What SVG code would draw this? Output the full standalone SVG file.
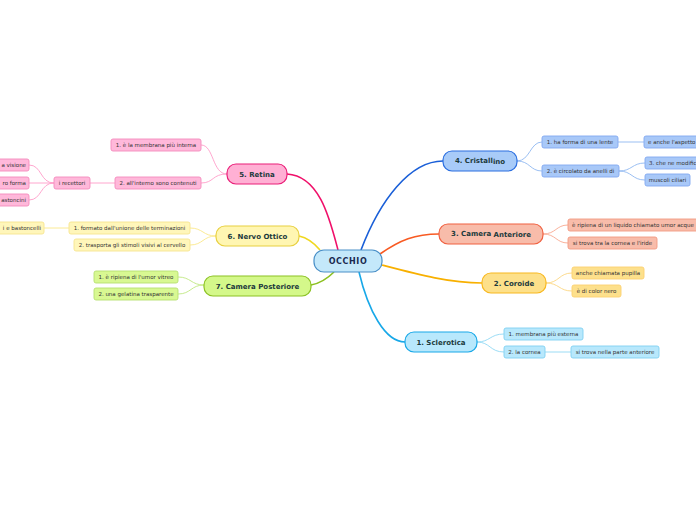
<svg xmlns="http://www.w3.org/2000/svg" width="696" height="520" viewBox="0 0 696 520">
<style>
.mn{stroke-width:1.2}
.lf{stroke-width:0.9}
.mt{font-family:"DejaVu Sans",Verdana,sans-serif;font-size:7px;font-weight:bold;fill:#1c3a3c;text-anchor:middle}
.lt{font-family:"DejaVu Sans",Verdana,sans-serif;font-size:5.5px;fill:#333;text-anchor:middle}
.le{text-anchor:end}
.ls{text-anchor:start}
.c{fill:none;stroke-width:1.6}
.cl{fill:none;stroke-width:0.9}
.pink{fill:#ffb0d4;stroke:#ea1e78}
.pinkL{fill:#ffb8da;stroke:#f48abc}
.yel{fill:#fff6b2;stroke:#e8d040}
.yelL{fill:#fff6ba;stroke:#f6e48e}
.grn{fill:#d4f88a;stroke:#8cc224}
.grnL{fill:#d8f892;stroke:#b6e070}
.blu{fill:#a8cbf8;stroke:#2a6ee0}
.bluL{fill:#a8c8f8;stroke:#82a8f0}
.sal{fill:#f8bcaa;stroke:#f06040}
.salL{fill:#f8bcaa;stroke:#f29a82}
.ora{fill:#fde08a;stroke:#f8b820}
.oraL{fill:#fde08c;stroke:#fcd070}
.sky{fill:#b8e8fc;stroke:#18a8e8}
.skyL{fill:#b8e8fc;stroke:#80d0f2}
</style>
<g id="connectors">
<path class="c" stroke="#f0106a" d="M287,174 C320,176 330,220 338,250"/>
<path class="c" stroke="#1a5fd8" d="M361,250 C380,200 410,161 443,161"/>
<path class="c" stroke="#f85a22" d="M380,254 C400,240 415,234 439,234"/>
<path class="c" stroke="#f8b000" d="M382,265 C420,275 450,283 482,283"/>
<path class="c" stroke="#18a8e8" d="M359,272 C368,310 385,342 405,342"/>
<path class="c" stroke="#f0d820" d="M299,236 C308,238 315,244 320,250"/>
<path class="c" stroke="#8cc020" d="M311,285 C322,283 328,278 334,272"/>
<g stroke="#ff9cc8">
<path class="cl" d="M201,145 C214,145 212,174 227,174"/>
<path class="cl" d="M201,183 C214,183 212,174 227,174"/>
<path class="cl" d="M90,183 L115,183"/>
<path class="cl" d="M29,165 C42,165 40,183 54,183"/>
<path class="cl" d="M29,183 L54,183"/>
<path class="cl" d="M29,200 C42,200 40,183 54,183"/>
</g>
<g stroke="#fbe888">
<path class="cl" d="M190,228 C203,228 203,236 216,236"/>
<path class="cl" d="M190,245 C203,245 203,236 216,236"/>
<path class="cl" d="M44,228 L69,228"/>
</g>
<g stroke="#c0e880">
<path class="cl" d="M178,277 C191,277 191,285 204,285"/>
<path class="cl" d="M178,294 C191,294 191,285 204,285"/>
</g>
<g stroke="#90b8f0">
<path class="cl" d="M517,161 C530,161 530,142 542,142"/>
<path class="cl" d="M517,161 C530,161 530,171 542,171"/>
<path class="cl" d="M618,142 L644,142"/>
<path class="cl" d="M619,171 C632,171 632,163 645,163"/>
<path class="cl" d="M619,171 C632,171 632,180 645,180"/>
</g>
<g stroke="#f8a890">
<path class="cl" d="M543,234 C556,234 556,225 568,225"/>
<path class="cl" d="M543,234 C556,234 556,243 568,243"/>
</g>
<g stroke="#fcd680">
<path class="cl" d="M546,283 C559,283 559,273 572,273"/>
<path class="cl" d="M546,283 C559,283 559,291 572,291"/>
</g>
<g stroke="#90d8f4">
<path class="cl" d="M477,342 C490,342 490,334 504,334"/>
<path class="cl" d="M477,342 C490,342 490,352 504,352"/>
<path class="cl" d="M545,352 L571,352"/>
</g>
</g>
<g id="occhio">
<rect x="314" y="250" width="68" height="22" rx="10" fill="#c4e8fa" stroke="#4a90c8" stroke-width="1.2"/>
<text x="348" y="264.3" font-family="DejaVu Sans,Verdana,sans-serif" font-size="8px" font-weight="bold" fill="#1a2a50" text-anchor="middle" letter-spacing="0.6">OCCHIO</text>
</g>
<g id="retina">
<rect class="mn pink" x="227" y="164" width="60" height="20" rx="9"/>
<text class="mt" x="257" y="176.5">5. Retina</text>
</g>
<g id="retina-1"><rect class="lf pinkL" x="111" y="139" width="90" height="12" rx="2"/><text class="lt" x="156" y="147">1. è la membrana più interna</text></g>
<g id="retina-2"><rect class="lf pinkL" x="115" y="177" width="86" height="12" rx="2"/><text class="lt" x="158" y="185">2. all'interno sono contenuti</text></g>
<g id="recettori"><rect class="lf pinkL" x="54" y="177" width="36" height="12" rx="2"/><text class="lt" x="72" y="185">i recettori</text></g>
<g id="recettori-1"><rect class="lf pinkL" x="-30" y="159" width="59" height="12" rx="2"/><text class="lt le" x="26" y="167">a visione</text></g>
<g id="recettori-2"><rect class="lf pinkL" x="-30" y="177" width="59" height="12" rx="2"/><text class="lt le" x="26" y="185">ro forma</text></g>
<g id="recettori-3"><rect class="lf pinkL" x="-30" y="194" width="59" height="12" rx="2"/><text class="lt le" x="26" y="202">astoncini</text></g>
<g id="nervo">
<rect class="mn yel" x="216" y="226" width="83" height="20" rx="9"/>
<text class="mt" x="257.5" y="238.5">6. Nervo Ottico</text>
</g>
<g id="nervo-1"><rect class="lf yelL" x="69" y="222" width="121" height="12" rx="2"/><text class="lt" x="129.5" y="230">1. formato dall'unione delle terminazioni</text></g>
<g id="nervo-2"><rect class="lf yelL" x="74" y="239" width="116" height="12" rx="2"/><text class="lt" x="132" y="247">2. trasporta gli stimoli visivi al cervello</text></g>
<g id="nervo-3"><rect class="lf yelL" x="-20" y="222" width="64" height="12" rx="2"/><text class="lt le" x="41" y="230">i e bastoncelli</text></g>
<g id="posteriore">
<rect class="mn grn" x="204" y="276" width="107" height="20" rx="9"/>
<text class="mt" x="257.5" y="288.5">7. Camera Posteriore</text>
</g>
<g id="posteriore-1"><rect class="lf grnL" x="94" y="271" width="84" height="12" rx="2"/><text class="lt" x="136" y="279">1. è ripiena di l'umor vitreo</text></g>
<g id="posteriore-2"><rect class="lf grnL" x="94" y="288" width="84" height="12" rx="2"/><text class="lt" x="136" y="296">2. una gelatina trasparente</text></g>
<g id="cristallino">
<rect class="mn blu" x="443" y="151" width="74" height="20" rx="9"/>
<text class="mt" x="480" y="163.4">4. Cristall<tspan dy="1">ino</tspan></text>
</g>
<g id="cristallino-1"><rect class="lf bluL" x="542" y="136" width="76" height="12" rx="2"/><text class="lt" x="580" y="144">1. ha forma di una lente</text></g>
<g id="cristallino-2"><rect class="lf bluL" x="542" y="165" width="77" height="12" rx="2"/><text class="lt" x="580.5" y="173">2. è circolato da anelli di</text></g>
<g id="cristallino-3"><rect class="lf bluL" x="644" y="136" width="60" height="12" rx="2"/><text class="lt ls" x="648" y="144">e anche l'aspetto</text></g>
<g id="cristallino-4"><rect class="lf bluL" x="645" y="157" width="60" height="12" rx="2"/><text class="lt ls" x="649" y="165">3. che ne modific</text></g>
<g id="cristallino-5"><rect class="lf bluL" x="645" y="174" width="45" height="12" rx="2"/><text class="lt" x="667.5" y="182">muscoli ciliari</text></g>
<g id="anteriore">
<rect class="mn sal" x="439" y="224" width="104" height="20" rx="9"/>
<text class="mt" x="491" y="236.2">3. Camera <tspan dy="1">Anteriore</tspan></text>
</g>
<g id="anteriore-1"><rect class="lf salL" x="568" y="219" width="140" height="12" rx="2"/><text class="lt ls" x="572" y="227">è ripiena di un liquido chiamato umor acque</text></g>
<g id="anteriore-2"><rect class="lf salL" x="568" y="237" width="89" height="12" rx="2"/><text class="lt" x="612.5" y="245">si trova tra la cornea e l'iride</text></g>
<g id="coroide">
<rect class="mn ora" x="482" y="273" width="64" height="20" rx="9"/>
<text class="mt" x="514" y="285.5">2. Coroide</text>
</g>
<g id="coroide-1"><rect class="lf oraL" x="572" y="267" width="72" height="12" rx="2"/><text class="lt" x="608" y="275">anche chiamata pupilla</text></g>
<g id="coroide-2"><rect class="lf oraL" x="572" y="285" width="49" height="12" rx="2"/><text class="lt" x="596.5" y="293">è di color nero</text></g>
<g id="sclerotica">
<rect class="mn sky" x="405" y="332" width="72" height="20" rx="9"/>
<text class="mt" x="441" y="344.5">1. Sclerotica</text>
</g>
<g id="sclerotica-1"><rect class="lf skyL" x="504" y="328" width="79" height="12" rx="2"/><text class="lt" x="543.5" y="336">1. membrana più esterna</text></g>
<g id="sclerotica-2"><rect class="lf skyL" x="504" y="346" width="41" height="12" rx="2"/><text class="lt" x="524.5" y="354">2. la cornea</text></g>
<g id="sclerotica-3"><rect class="lf skyL" x="571" y="346" width="88" height="12" rx="2"/><text class="lt" x="615" y="354">si trova nella parte anteriore</text></g>
</svg>
